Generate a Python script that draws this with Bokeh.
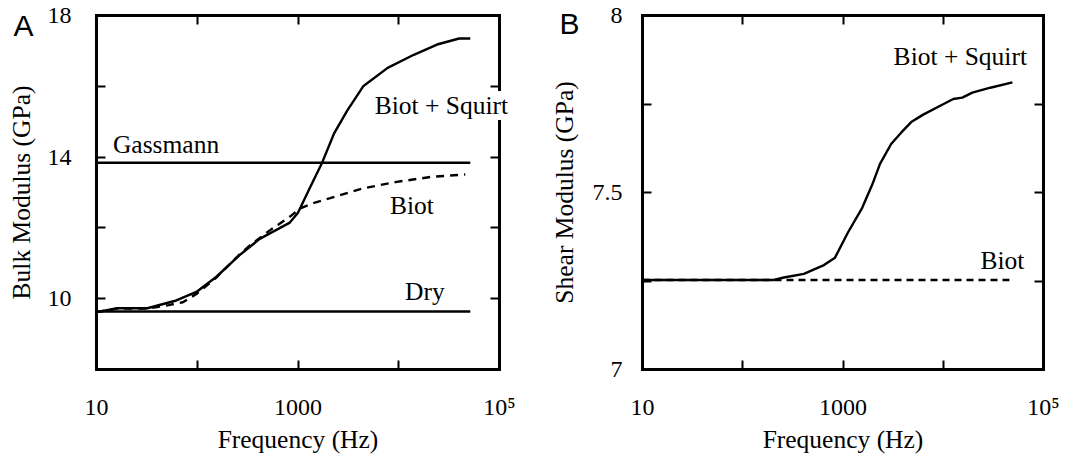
from bokeh.plotting import figure
from bokeh.layouts import row
from bokeh.models import (Range1d, FixedTicker, LinearAxis, LogAxis)
from bokeh.core.properties import value
from bokeh.embed import file_html
from bokeh.resources import INLINE

# ---- Bulk modulus vs frequency ----
bulk_squirt_hz = [10, 16, 32, 62, 98, 155, 263, 417, 830, 1000, 1320, 1740,
                  2290, 3090, 4470, 7760, 14100, 24000, 39800, 51300]
bulk_squirt_gpa = [9.62, 9.73, 9.73, 9.95, 10.19, 10.62, 11.23, 11.69, 12.15,
                   12.43, 13.15, 13.85, 14.68, 15.32, 16.01, 16.52, 16.89,
                   17.18, 17.35, 17.35]
bulk_biot_hz = [10, 16, 32, 52, 72, 100, 155, 263, 331, 525, 832, 1050, 1410,
                2090, 4470, 9550, 20900, 45700]
bulk_biot_gpa = [9.62, 9.72, 9.72, 9.82, 9.90, 10.15, 10.60, 11.25, 11.50,
                 11.93, 12.32, 12.55, 12.70, 12.84, 13.12, 13.30, 13.44, 13.51]
bulk_limit_hz = [10, 51300]
gassmann_gpa = [13.84, 13.84]
dry_gpa = [9.64, 9.64]

# ---- Shear modulus vs frequency ----
shear_squirt_hz = [10, 204, 257, 407, 646, 832, 1120, 1550, 1950, 2340, 3020,
                   3800, 4790, 6310, 9330, 12600, 15500, 19500, 29500, 49000]
shear_squirt_gpa = [7.253, 7.253, 7.26, 7.27, 7.295, 7.316, 7.387, 7.456,
                    7.521, 7.581, 7.637, 7.669, 7.699, 7.72, 7.745, 7.764,
                    7.768, 7.782, 7.796, 7.811]
shear_biot_hz = [10, 45700]
shear_biot_gpa = [7.253, 7.253]

# ---- Axis ticks ----
freq_ticks = [10, 100, 1000, 10000, 100000]
freq_labels = {10: "10", 100: "", 1000: "1000", 10000: "", 100000: "10\u2075"}
bulk_ticks = [8, 10, 12, 14, 16, 18]
bulk_labels = {8: "", 10: "10", 12: "", 14: "14", 16: "", 18: "18"}
shear_ticks = [7, 7.25, 7.5, 7.75, 8]
shear_labels = {7: "7", 7.25: "", 7.5: "7.5", 7.75: "", 8: "8"}

SERIF = "Liberation Serif"
SANS = "Liberation Sans"
TICK_PX = "24px"
TEXT_PX = "25.5px"
CURVE_W = 2.4


def style_axis(ax, ticks, labels, show_labels=True):
    ax.ticker = FixedTicker(ticks=ticks)
    ax.axis_line_color = "black"
    ax.axis_line_width = 3
    ax.axis_line_cap = "square"
    ax.major_tick_in = 9
    ax.major_tick_out = 0
    ax.major_tick_line_width = 2
    ax.major_tick_line_color = "black"
    ax.minor_tick_line_color = None
    if show_labels:
        ax.major_label_overrides = labels
        ax.major_label_text_font = SERIF
        ax.major_label_text_font_size = TICK_PX
        ax.major_label_text_color = "black"
        ax.axis_label_text_font = SERIF
        ax.axis_label_text_font_size = TEXT_PX
        ax.axis_label_text_font_style = "normal"
        ax.axis_label_text_color = "black"
    else:
        ax.major_label_overrides = {t: "" for t in ticks}
        ax.major_label_text_font_size = "1px"
        ax.major_label_standoff = 0


def make_panel(width, left, right, y_range, y_ticks, y_labels, y_title,
               y_standoff, y_title_standoff):
    p = figure(width=width, height=456, x_axis_type="log",
               x_range=Range1d(10, 1e5), y_range=y_range,
               output_backend="svg", toolbar_location=None,
               min_border_left=left, min_border_right=right,
               min_border_top=15, min_border_bottom=82)
    p.grid.visible = False
    p.outline_line_color = None
    p.background_fill_color = "white"
    p.border_fill_color = "white"

    xa = p.xaxis[0]
    style_axis(xa, freq_ticks, freq_labels)
    xa.axis_label = "Frequency (Hz)"
    xa.major_label_standoff = 24
    xa.axis_label_standoff = 2

    ya = p.yaxis[0]
    style_axis(ya, y_ticks, y_labels)
    ya.axis_label = y_title
    ya.major_label_standoff = y_standoff
    ya.axis_label_standoff = y_title_standoff

    top = LogAxis()
    style_axis(top, freq_ticks, freq_labels, show_labels=False)
    p.add_layout(top, "above")
    rt = LinearAxis()
    style_axis(rt, y_ticks, y_labels, show_labels=False)
    p.add_layout(rt, "right")
    return p


def add_text(p, text, x, y, bg=None, font=SERIF, size=TEXT_PX):
    # drawn on the overlay level so that text may run past the frame edge
    p.text(x=[x], y=[y], text=[text], text_font=value(font),
           text_font_size=value(size), text_align="center",
           text_baseline="middle", text_color="black",
           background_fill_color=bg, level="overlay")


# Panel A: bulk modulus
pa = make_panel(530, 96, 31, Range1d(8, 18), bulk_ticks, bulk_labels,
                "Bulk Modulus (GPa)", 25, 9)
pa.line(bulk_limit_hz, gassmann_gpa, line_color="black", line_width=CURVE_W)
pa.line(bulk_limit_hz, dry_gpa, line_color="black", line_width=CURVE_W)
pa.line(bulk_biot_hz, bulk_biot_gpa, line_color="black", line_width=CURVE_W,
        line_dash="8 6")
pa.line(bulk_squirt_hz, bulk_squirt_gpa, line_color="black",
        line_width=CURVE_W)
add_text(pa, "Biot + Squirt", 26550, 15.46, bg="white")
add_text(pa, "Gassmann", 49, 14.37)
add_text(pa, "Biot", 13490, 12.63)
add_text(pa, "Dry", 18200, 10.19)
add_text(pa, "A", 1.886, 17.71, font=SANS, size="30px")

# Panel B: shear modulus
pb = make_panel(537, 112, 24, Range1d(7, 8), shear_ticks, shear_labels,
                "Shear Modulus (GPa)", 20, 11)
pb.line(shear_biot_hz, shear_biot_gpa, line_color="black",
        line_width=CURVE_W, line_dash="7 5")
pb.line(shear_squirt_hz, shear_squirt_gpa, line_color="black",
        line_width=CURVE_W)
add_text(pb, "Biot + Squirt", 14800, 7.884)
add_text(pb, "Biot", 38900, 7.308)
add_text(pb, "B", 1.875, 7.977, font=SANS, size="30px")

layout = row(pa, pb)
open("out.html", "w").write(file_html(layout, INLINE))
